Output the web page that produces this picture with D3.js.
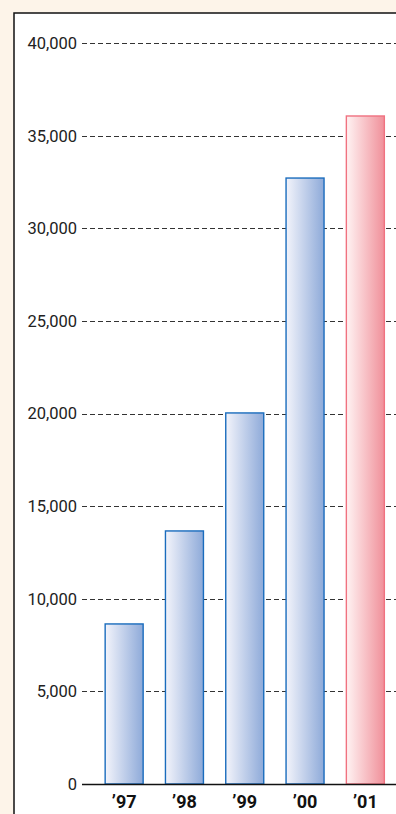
<!DOCTYPE html>
<html lang="en">
<head>
<meta charset="utf-8">
<title>Bar chart</title>
<script src="https://cdn.jsdelivr.net/npm/d3@7"></script>
<style>
body{ margin:0; background:#fdf4e9; }
svg{ display:block; }
</style>
</head>
<body>
<script>
// data
let years = ["’97", "’98", "’99", "’00", "’01"];
let values = [8640, 13660, 20030, 32710, 36060];
let yTicks = [0, 5000, 10000, 15000, 20000, 25000, 30000, 35000, 40000];

let w = 396, h = 814;

let svg = d3.select("body").append("svg")
    .attr("width", w)
    .attr("height", h);

let defs = svg.append("defs");
function grad(id, c0, c1){
    let g = defs.append("linearGradient").attr("id", id)
        .attr("x1", "0%").attr("x2", "100%").attr("y1", "0%").attr("y2", "0%");
    g.append("stop").attr("offset", "0%").attr("stop-color", c0);
    g.append("stop").attr("offset", "100%").attr("stop-color", c1);
}
grad("blueGrad", "#f3f4fb", "#8eaad9");
grad("redGrad", "#fff3f3", "#f0909a");

// white panel with border
svg.append("rect")
    .attr("x", 14).attr("y", 13)
    .attr("width", w + 10).attr("height", h + 10)
    .attr("fill", "#fff")
    .attr("stroke", "#111")
    .attr("stroke-width", 1.5);

let x = d3.scaleBand()
    .domain(years)
    .range([94, 395.5])
    .paddingInner(0.37)
    .paddingOuter(0.185);

let y = d3.scaleLinear()
    .domain([0, 40000])
    .range([784, 43]);

// grid lines
svg.append("g").selectAll("line")
    .data(yTicks.filter(d => d > 0))
    .enter().append("line")
    .attr("x1", 82).attr("x2", w)
    .attr("y1", d => Math.round(y(d)) + 0.5)
    .attr("y2", d => Math.round(y(d)) + 0.5)
    .attr("stroke", "#333")
    .attr("stroke-width", 1)
    .attr("stroke-dasharray", "5,3");

// y labels
svg.append("g").selectAll("text")
    .data(yTicks)
    .enter().append("text")
    .attr("x", 77)
    .attr("y", d => y(d))
    .attr("dy", "0.36em")
    .attr("text-anchor", "end")
    .attr("font-family", "Roboto, sans-serif")
    .attr("font-size", 16.5)
    .attr("fill", "#222")
    .text(d => d3.format(",")(d));

// bars
svg.append("g").selectAll("rect")
    .data(values)
    .enter().append("rect")
    .attr("x", (d, i) => x(years[i]))
    .attr("y", d => y(d))
    .attr("width", x.bandwidth())
    .attr("height", d => y(0) - y(d))
    .attr("fill", (d, i) => i == 4 ? "url(#redGrad)" : "url(#blueGrad)")
    .attr("stroke", (d, i) => i == 4 ? "#f07280" : "#1a6cbd")
    .attr("stroke-width", 1.4);

// baseline
svg.append("line")
    .attr("x1", 82).attr("x2", w)
    .attr("y1", y(0) + 0.5).attr("y2", y(0) + 0.5)
    .attr("stroke", "#111")
    .attr("stroke-width", 1.3);

// x labels
svg.append("g").selectAll("text")
    .data(years)
    .enter().append("text")
    .attr("x", d => x(d) + x.bandwidth() / 2)
    .attr("y", 808)
    .attr("text-anchor", "middle")
    .attr("font-family", "Roboto, sans-serif")
    .attr("font-weight", "bold")
    .attr("font-size", 18)
    .attr("fill", "#111")
    .text(d => d);
</script>
</body>
</html>
